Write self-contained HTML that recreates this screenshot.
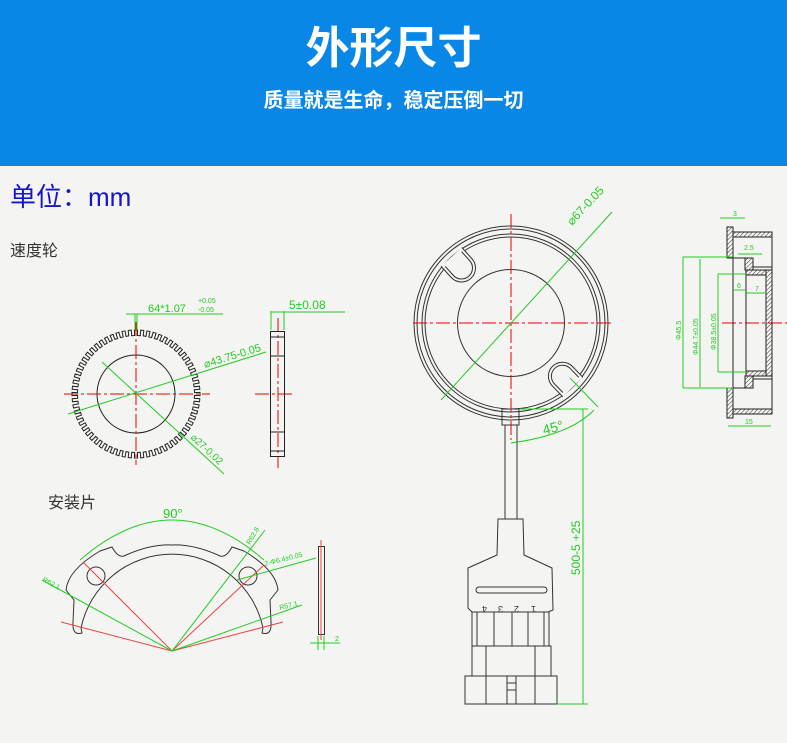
<!DOCTYPE html>
<html><head><meta charset="utf-8"><style>
html,body{margin:0;padding:0;width:787px;height:743px;overflow:hidden;background:#f4f4f2;font-family:"Liberation Sans","Noto Sans CJK SC",sans-serif}
.hd{position:absolute;left:0;top:0;width:787px;height:166px;background:#0887e6}
.t1{position:absolute;top:14px;left:0;width:787px;text-align:center;color:#fff;font-size:44px;font-weight:bold;font-family:"Noto Sans CJK SC",sans-serif;line-height:60px}
.t2{position:absolute;top:84px;left:0;width:787px;text-align:center;color:#fff;font-size:20px;font-weight:bold;font-family:"Noto Sans CJK SC",sans-serif;line-height:30px}
svg{position:absolute;left:0;top:0}
</style></head><body>
<div class="hd"></div>
<div class="t1">外形尺寸</div>
<div class="t2">质量就是生命，稳定压倒一切</div>
<svg width="787" height="743" viewBox="0 0 787 743" font-family="Liberation Sans, Noto Sans CJK SC, sans-serif">
<defs><pattern id="h" width="3" height="3" patternUnits="userSpaceOnUse" patternTransform="rotate(45)"><line x1="0" y1="0" x2="0" y2="3" stroke="#333" stroke-width="1"/></pattern></defs>
<text x="10" y="206" font-size="26" fill="#1414d2" font-family="Noto Sans CJK SC, sans-serif">单位：<tspan font-family="Liberation Sans">mm</tspan></text>
<text x="10" y="256" font-size="16" fill="#333" font-family="Noto Sans CJK SC, sans-serif">速度轮</text>
<text x="48" y="508" font-size="16" fill="#333" font-family="Noto Sans CJK SC, sans-serif">安装片</text>

<!-- gear -->
<path id="gear" fill="none" stroke="#222" stroke-width="1"/>
<circle cx="136" cy="394" r="39" fill="none" stroke="#222"/>
<g stroke="#e00" stroke-width="1" stroke-dasharray="14,3,3,3">
<line x1="64" y1="394" x2="210" y2="394"/><line x1="136" y1="322" x2="136" y2="465"/>
<line x1="255" y1="394" x2="295" y2="394"/><line x1="278" y1="318" x2="278" y2="468"/>
</g>
<g stroke="#2c2" stroke-width="1" fill="none">
<line x1="68" y1="414" x2="266" y2="352"/><line x1="102" y1="362" x2="224" y2="474"/>
<line x1="126" y1="314" x2="223" y2="314"/><line x1="135" y1="314" x2="135" y2="330"/><line x1="137" y1="314" x2="137" y2="330"/>
<line x1="271" y1="311" x2="271" y2="330"/><line x1="284" y1="311" x2="284" y2="330"/><line x1="271" y1="312" x2="345" y2="312"/>
</g>
<g fill="#2c2" font-size="11">
<text x="148" y="312">64*1.07</text><text x="198" y="303" font-size="7">+0.05</text><text x="198" y="312" font-size="7">-0.05</text>
<text x="289" y="309" font-size="12">5±0.08</text>
<text x="205" y="368" transform="rotate(-17 205 368)" font-size="11">⌀43.75-0.05</text>
<text x="190" y="438" transform="rotate(43 190 438)" font-size="10">⌀27-0.02</text>
</g>
<rect x="270.5" y="331.5" width="14" height="125" fill="none" stroke="#222"/>
<g stroke="#222"><line x1="271" y1="337" x2="284" y2="337"/><line x1="271" y1="356" x2="284" y2="356"/><line x1="271" y1="432" x2="284" y2="432"/><line x1="271" y1="451" x2="284" y2="451"/></g>

<!-- big sensor -->
<g fill="none" stroke="#333" stroke-width="1">
<circle cx="511" cy="323" r="97"/><circle cx="511" cy="323" r="94"/>
<circle cx="511" cy="323" r="89"/><circle cx="511" cy="323" r="86"/>
<circle cx="511" cy="323" r="53.5"/>
<g transform="rotate(228 511 323) translate(511 323)">
<path d="M89,-14 L74,-14 A14 14 0 0 0 74,14 L89,14" fill="#f4f4f2"/>
<path d="M86,-11 L74,-11 A11 11 0 0 0 74,11 L86,11"/>
</g>
<g transform="rotate(46 511 323) translate(511 323)">
<path d="M89,-14 L74,-14 A14 14 0 0 0 74,14 L89,14" fill="#f4f4f2"/>
<path d="M86,-11 L74,-11 A11 11 0 0 0 74,11 L86,11"/>
</g>
<rect x="502" y="409" width="17" height="16"/>
<line x1="505" y1="425" x2="505" y2="519"/><line x1="517" y1="425" x2="517" y2="519"/>
<path d="M498,519 L523,519 L524,555 L552,568 L553,610 L548,612 L472,612 L468,608 L468,568 L497,555 Z"/>
<rect x="476" y="587" width="71" height="6" rx="3"/>
<rect x="472" y="612" width="77" height="34"/>
<line x1="477" y1="612" x2="477" y2="646"/><line x1="494" y1="612" x2="494" y2="646"/><line x1="512" y1="612" x2="512" y2="646"/><line x1="528" y1="612" x2="528" y2="646"/><line x1="544" y1="612" x2="544" y2="646"/>
<rect x="472" y="646" width="79" height="30"/><line x1="486" y1="646" x2="486" y2="676"/><line x1="535" y1="646" x2="535" y2="676"/>
<rect x="465" y="676" width="92" height="28"/><line x1="486" y1="676" x2="486" y2="704"/><line x1="535" y1="676" x2="535" y2="704"/>
<rect x="507" y="676" width="9" height="28"/><line x1="507" y1="683" x2="516" y2="683"/><line x1="507" y1="690" x2="516" y2="690"/>
</g>
<g fill="#333" font-size="9"><text x="487" y="598" transform="rotate(180 487 602)">4</text><text x="503" y="598" transform="rotate(180 503 602)">3</text><text x="519" y="598" transform="rotate(180 519 602)">2</text><text x="536" y="598" transform="rotate(180 536 602)">1</text></g>
<g stroke="#e00" stroke-dasharray="14,3,3,3"><line x1="413" y1="323" x2="612" y2="323"/><line x1="511" y1="214" x2="511" y2="440"/><line x1="722" y1="323" x2="787" y2="323"/></g>
<g stroke="#2c2" fill="none">
<line x1="441" y1="400" x2="612" y2="212"/>
<line x1="570" y1="378" x2="598" y2="407"/>
<path d="M511,443 Q570,435 594,410"/>
<line x1="520" y1="409" x2="588" y2="409"/><line x1="583" y1="409" x2="583" y2="704"/><line x1="557" y1="704" x2="588" y2="704"/>
</g>
<g fill="#2c2"><text x="572" y="226" font-size="12" transform="rotate(-47 572 226)">⌀67-0.05</text>
<text x="544" y="435" font-size="14" transform="rotate(-15 544 435)">45°</text>
<text x="580" y="575" font-size="12" transform="rotate(-90 580 575)">500-5 +25</text></g>

<!-- cross section -->
<g stroke="#222" stroke-width="1">
<rect x="727" y="227" width="6" height="31" fill="url(#h)"/><rect x="727" y="388" width="6" height="30" fill="url(#h)"/>
<rect x="733" y="232" width="39" height="5" fill="url(#h)"/><rect x="733" y="409" width="39" height="5" fill="url(#h)"/>
<rect x="745" y="258" width="8" height="12" fill="url(#h)"/><rect x="745" y="376" width="8" height="12" fill="url(#h)"/>
<rect x="766" y="270" width="6" height="106" fill="url(#h)"/>
<rect x="746" y="270" width="20" height="5" fill="url(#h)"/><rect x="746" y="371" width="20" height="5" fill="url(#h)"/>
<line x1="733" y1="258" x2="733" y2="388" fill="none"/><line x1="746" y1="270" x2="746" y2="376"/>
<line x1="733" y1="258" x2="745" y2="258"/><line x1="733" y1="388" x2="745" y2="388"/>
<line x1="753" y1="267" x2="772" y2="267"/><line x1="753" y1="379" x2="772" y2="379"/>
<line x1="772" y1="232" x2="772" y2="414"/>
</g>
<g stroke="#2c2" fill="none">
<line x1="683" y1="257" x2="683" y2="388"/><line x1="700" y1="259" x2="700" y2="387"/><line x1="718" y1="274" x2="718" y2="372"/>
<line x1="683" y1="257" x2="733" y2="257"/><line x1="683" y1="388" x2="733" y2="388"/>
<line x1="718" y1="274" x2="746" y2="274"/><line x1="718" y1="372" x2="746" y2="372"/>
<line x1="720" y1="218" x2="745" y2="218"/><line x1="738" y1="254" x2="762" y2="254"/>
<line x1="728" y1="426" x2="771" y2="426"/><line x1="733" y1="290" x2="746" y2="290"/><line x1="746" y1="293" x2="766" y2="293"/>
</g>
<g fill="#2c2" font-size="7"><text x="733" y="216">3</text><text x="744" y="250">2.5</text><text x="737" y="288">6</text><text x="755" y="291">7</text><text x="745" y="424">15</text>
<text x="681" y="340" transform="rotate(-90 681 340)">Φ45.5</text><text x="698" y="355" transform="rotate(-90 698 355)">Φ44.7±0.05</text><text x="716" y="350" transform="rotate(-90 716 350)">Φ38.5±0.05</text></g>

<!-- mounting plate -->
<g fill="none" stroke="#333">
<path d="M81,628 L82,633 Q72,636 73,622 L74,600 L66,590 Q68,570 100,551 L112,547 Q118,558 124,556 Q150,544 172,545 Q194,544 220,556 Q226,558 232,547 L244,551 Q276,570 278,590 L270,600 L271,622 Q272,636 262,633 L263,628 A93,93 0 0 0 81,628 Z"/>
<circle cx="96" cy="576" r="9"/><circle cx="248" cy="576" r="9"/>
<rect x="318.5" y="546.5" width="6" height="88"/>
</g>
<g stroke="#e44" fill="none">
<line x1="172" y1="651" x2="61" y2="622"/><line x1="172" y1="651" x2="283" y2="622"/>
<line x1="172" y1="651" x2="83" y2="562"/><line x1="172" y1="651" x2="263" y2="566"/>
<line x1="321" y1="540" x2="321" y2="640"/>
</g>
<g stroke="#2c2" fill="none">
<path d="M80,560 Q172,480 264,560"/>
<line x1="172" y1="651" x2="265" y2="530"/><line x1="172" y1="651" x2="42" y2="580"/><line x1="172" y1="651" x2="302" y2="605"/>
<line x1="237" y1="580" x2="316" y2="558"/>
<line x1="310" y1="643" x2="340" y2="643"/><line x1="318" y1="636" x2="318" y2="650"/><line x1="324" y1="636" x2="324" y2="650"/>
</g>
<g fill="#2c2" font-size="7">
<text x="163" y="518" font-size="13">90°</text>
<text x="250" y="545" transform="rotate(-60 250 545)">R62.8</text>
<text x="265" y="566" transform="rotate(-14 265 566)">2-Φ6.4±0.05</text>
<text x="280" y="610" transform="rotate(-14 280 610)">R57.1</text>
<text x="42" y="581" transform="rotate(28 42 581)">R62.1</text>
<text x="335" y="641">2</text></g>
</svg>
<script>
(function(){var cx=136,cy=394,R=64,r=58.5,n=64,d="";
for(var i=0;i<n;i++){var a0=i*2*Math.PI/n,a1=a0+Math.PI/n*0.5,a2=a0+Math.PI/n*1.5,a3=a0+2*Math.PI/n;
function p(a,rr){return (cx+rr*Math.cos(a)).toFixed(1)+","+(cy+rr*Math.sin(a)).toFixed(1)}
d+=(i?"L":"M")+p(a0,R)+"L"+p(a1,R)+"L"+p(a1,r)+"L"+p(a2,r)+"L"+p(a2,R)+"L"+p(a3,R);}
document.getElementById("gear").setAttribute("d",d+"Z");})();
</script>
</body></html>
